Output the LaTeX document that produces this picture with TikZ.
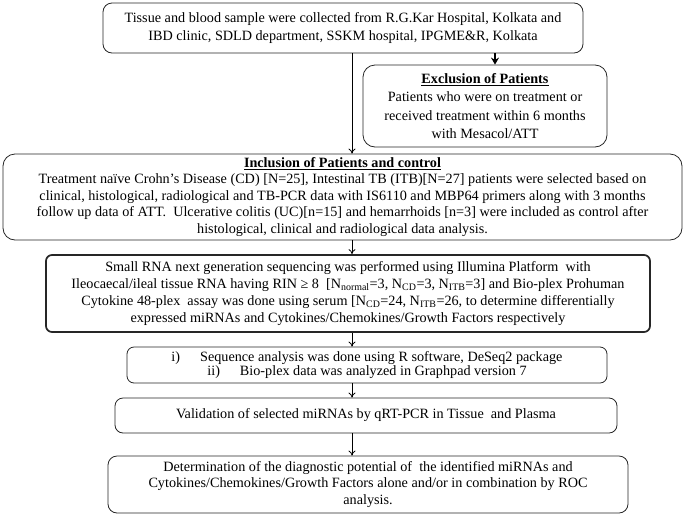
\documentclass[tikz,border=0pt]{standalone}
\usepackage{fontspec}
\setmainfont{Liberation Serif}
\usetikzlibrary{arrows.meta,calc}
\begin{document}
\begin{tikzpicture}[x=1pt,y=1pt,
  box/.style={draw=black!85, line width=0.8pt, rounded corners=9pt, align=center, inner sep=0pt,
    font=\fontsize{14.2}{16.5}\selectfont},
  thickbox/.style={box, line width=1.7pt, rounded corners=6pt},
  arr/.style={line width=0.8pt, -{To[length=5pt,width=7pt]}},
  boldarr/.style={line width=1.3pt, -{Stealth[length=7pt,width=8pt]}}]
\useasboundingbox (0,0) rectangle (685,-517);
\coordinate (spine) at (352,0);

\node[box, font=\fontsize{14.2}{17.5}\selectfont, minimum width=480, minimum height=50] (src) at (343,-28)
  {Tissue and blood sample were collected from R.G.Kar Hospital, Kolkata and\\
   IBD clinic, SDLD department, SSKM hospital, IPGME\&R, Kolkata};

\node[box, font=\fontsize{14.2}{18.5}\selectfont, rounded corners=12pt, minimum width=244, minimum height=82] (excl) at (485,-106)
  {\underline{\textbf{Exclusion of Patients}}\\
   Patients who were on treatment or\\
   received treatment within 6 months\\
   with Mesacol/ATT};

\node[box, rounded corners=12pt, minimum width=679, minimum height=86] (incl) at (342.5,-197)
  {\underline{\textbf{Inclusion of Patients and control}}\\
   Treatment naïve Crohn’s Disease (CD) [N=25], Intestinal TB (ITB)[N=27] patients were selected based on\\
   clinical, histological, radiological and TB-PCR data with IS6110 and MBP64 primers along with 3 months\\
   follow up data of ATT.\ \ Ulcerative colitis (UC)[n=15] and hemarrhoids [n=3] were included as control after\\
   histological, clinical and radiological data analysis.};

\node[thickbox, font=\fontsize{14.2}{17}\selectfont, minimum width=604, minimum height=77] (seq) at (348,-293.5)
  {Small RNA next generation sequencing was performed using Illumina Platform\ \ with\\
   Ileocaecal/ileal tissue RNA having RIN ≥ 8\ \ [N\textsubscript{normal}=3, N\textsubscript{CD}=3, N\textsubscript{ITB}=3] and Bio-plex Prohuman\\
   Cytokine 48-plex\ \ assay was done using serum [N\textsubscript{CD}=24, N\textsubscript{ITB}=26, to determine differentially\\
   expressed miRNAs and Cytokines/Chemokines/Growth Factors respectively};

\node[box, font=\fontsize{14.2}{14}\selectfont, rounded corners=7pt, minimum width=480, minimum height=36] (ana) at (367,-365)
  {i)\hspace{20pt}Sequence analysis was done using R software, DeSeq2 package\\
   ii)\hspace{20pt}Bio-plex data was analyzed in Graphpad version 7};

\node[box, rounded corners=8pt, minimum width=502, minimum height=35] (val) at (366,-415.5)
  {Validation of selected miRNAs by qRT-PCR in Tissue\ \ and Plasma};

\node[box, rounded corners=9pt, minimum width=520, minimum height=57] (roc) at (368,-484.5)
  {Determination of the diagnostic potential of\ \ the identified miRNAs and\\
   Cytokines/Chemokines/Growth Factors alone and/or in combination by ROC\\
   analysis.};

\draw[arr] (src.south -| spine) -- (incl.north -| spine);
\draw[boldarr] ([xshift=10pt]excl.north |- src.south) -- ([xshift=10pt]excl.north);
\draw[arr] (incl.south -| spine) -- (seq.north -| spine);
\draw[arr] (seq.south -| spine) -- (ana.north -| spine);
\draw[arr] (ana.south -| spine) -- (val.north -| spine);
\draw[arr] (val.south -| spine) -- (roc.north -| spine);
\end{tikzpicture}
\end{document}
